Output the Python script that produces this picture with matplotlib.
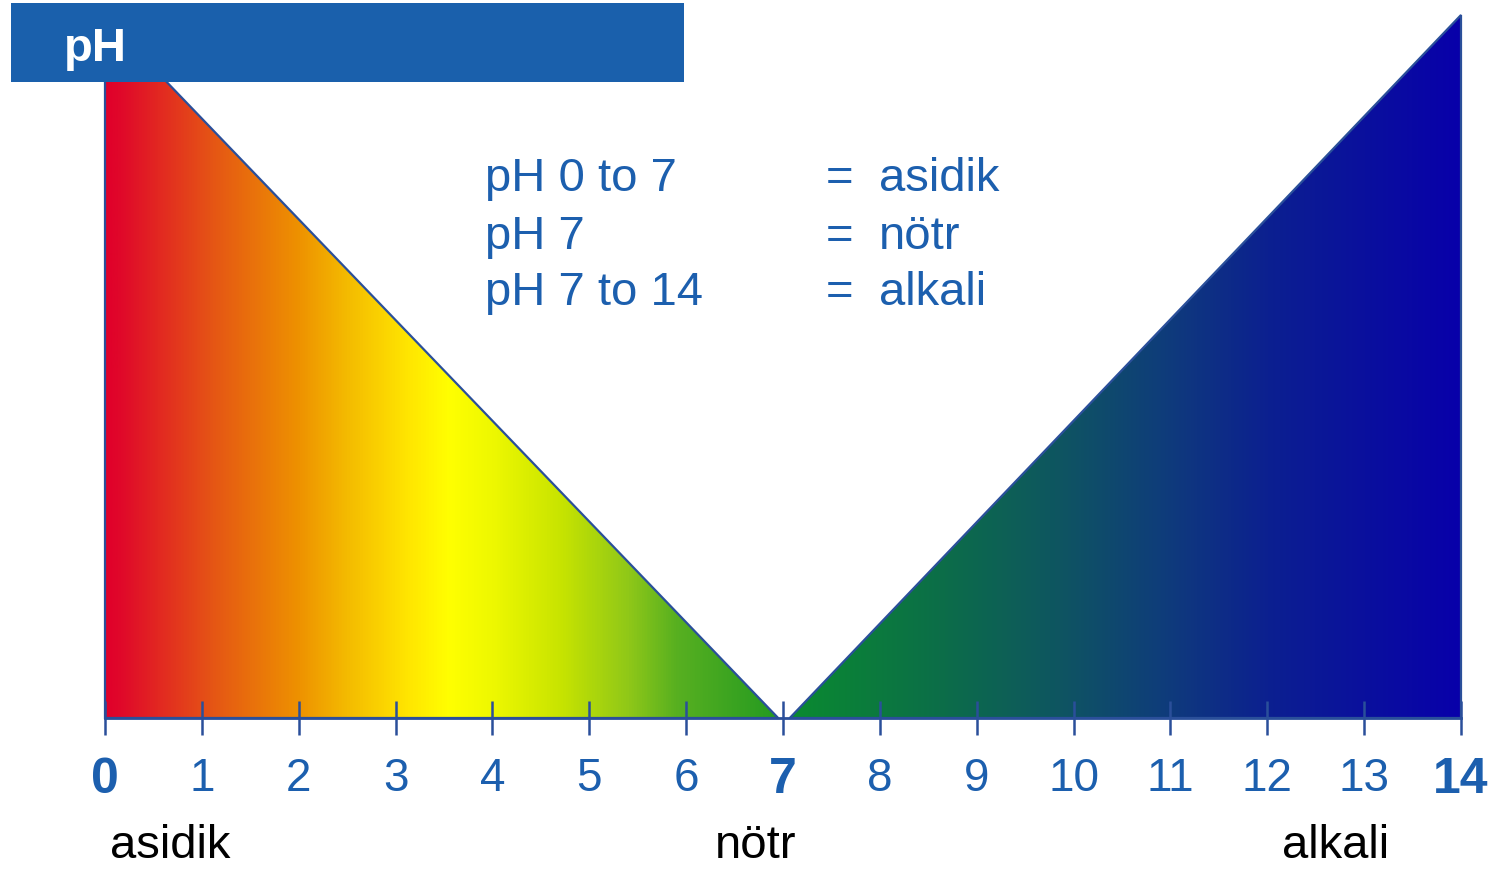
import numpy as np
import matplotlib
matplotlib.use("Agg")
import matplotlib.pyplot as plt
from matplotlib.colors import LinearSegmentedColormap
from matplotlib.patches import Polygon, Rectangle

plt.rcParams['font.family'] = ['Liberation Sans', 'DejaVu Sans']

# pH scale
ph_ticks = list(range(0, 15))
bold_ticks = [0, 7, 14]
acid_end = 6.95      # left triangle ends just before 7
base_start = 7.07    # right triangle starts just after 7
acid_height = 0.996
base_height = 1.0

# colour stops along the pH axis (pH, colour)
acid_stops = [(0.0, '#e0002a'), (0.15, '#e0082a'), (1.1, '#e55515'), (2.0, '#ee9200'),
              (2.5, '#f4bb00'), (3.1, '#ffe400'), (3.55, '#ffff00'), (4.0, '#eef800'),
              (4.7, '#c8e400'), (5.4, '#90c818'), (5.9, '#58b020'), (6.95, '#249a20')]
base_stops = [(7.07, '#0a8a30'), (8.6, '#0c6e48'), (9.8, '#0e5660'), (10.9, '#0f3d7a'),
              (12.0, '#0c2090'), (14.0, '#0800aa')]

legend_rows = [('pH 0 to 7', 'asidik'), ('pH 7', 'nötr'), ('pH 7 to 14', 'alkali')]
bottom_labels = [(0.05, 'asidik'), (6.3, 'nötr'), (12.15, 'alkali')]

blue = '#1c5fae'
edge = '#2a4f9a'

W, H = 1499, 869
fig = plt.figure(figsize=(W / 100, H / 100), dpi=100)
x0, x1 = 105, 1461
y0, y1 = 718, 15
ax = fig.add_axes([x0 / W, (H - y0) / H, (x1 - x0) / W, (y0 - y1) / H])
ax.set_xlim(0, 14)
ax.set_ylim(0, 1)
ax.set_axisbelow(False)


def make_cmap(stops, lo, hi):
    pos = [(p - lo) / (hi - lo) for p, _ in stops]
    return LinearSegmentedColormap.from_list('g', list(zip(pos, [c for _, c in stops])))


def triangle(ax, verts, lo, hi, stops):
    poly = Polygon(verts, closed=True, facecolor='none', edgecolor=edge,
                   linewidth=1.6, zorder=1.5, clip_on=False)
    ax.add_patch(poly)
    grad = np.linspace(0, 1, 512).reshape(1, -1)
    im = ax.imshow(grad, cmap=make_cmap(stops, lo, hi), extent=(lo, hi, 0, 1),
                   aspect='auto', origin='lower', zorder=1)
    im.set_clip_path(poly)


triangle(ax, [(0, 0), (acid_end, 0), (0, acid_height)], 0, acid_end, acid_stops)
triangle(ax, [(base_start, 0), (14, 0), (14, base_height)], base_start, 14, base_stops)

for s in ['top', 'left', 'right']:
    ax.spines[s].set_visible(False)
ax.spines['bottom'].set_color(edge)
ax.spines['bottom'].set_linewidth(2)
ax.set_yticks([])
ax.set_xticks(ph_ticks)
ax.set_xticklabels([str(t) for t in ph_ticks])
ax.tick_params(axis='x', direction='inout', length=25, width=1.8, color=edge,
               labelsize=33, labelcolor=blue, pad=15.5)
for t, lab in zip(ph_ticks, ax.get_xticklabels()):
    if t in bold_ticks:
        lab.set_fontweight('bold')
        lab.set_fontsize(36)
ax.patch.set_alpha(0)

# legend text block
row_y = [0.749, 0.667, 0.587]
for (left, right), yy in zip(legend_rows, row_y):
    ax.text(3.92, yy, left, fontsize=34, color=blue, va='baseline', ha='left')
    ax.text(7.44, yy, '=', fontsize=34, color=blue, va='baseline', ha='left')
    ax.text(7.99, yy, right, fontsize=34, color=blue, va='baseline', ha='left')

# labels under the axis
for xx, txt in bottom_labels:
    ax.text(xx, -0.199, txt, fontsize=34, color='black', va='baseline', ha='left',
            clip_on=False)

# header bar
fig.add_artist(Rectangle((11 / W, (H - 82) / H), (684 - 11) / W, 79 / H,
                         transform=fig.transFigure, facecolor='#1a60ac',
                         edgecolor='none', zorder=10))
fig.text(64 / W, (H - 61) / H, 'pH', fontsize=34, fontweight='bold', color='white',
         va='baseline', ha='left', zorder=11)

fig.savefig('out.png', dpi=100)
